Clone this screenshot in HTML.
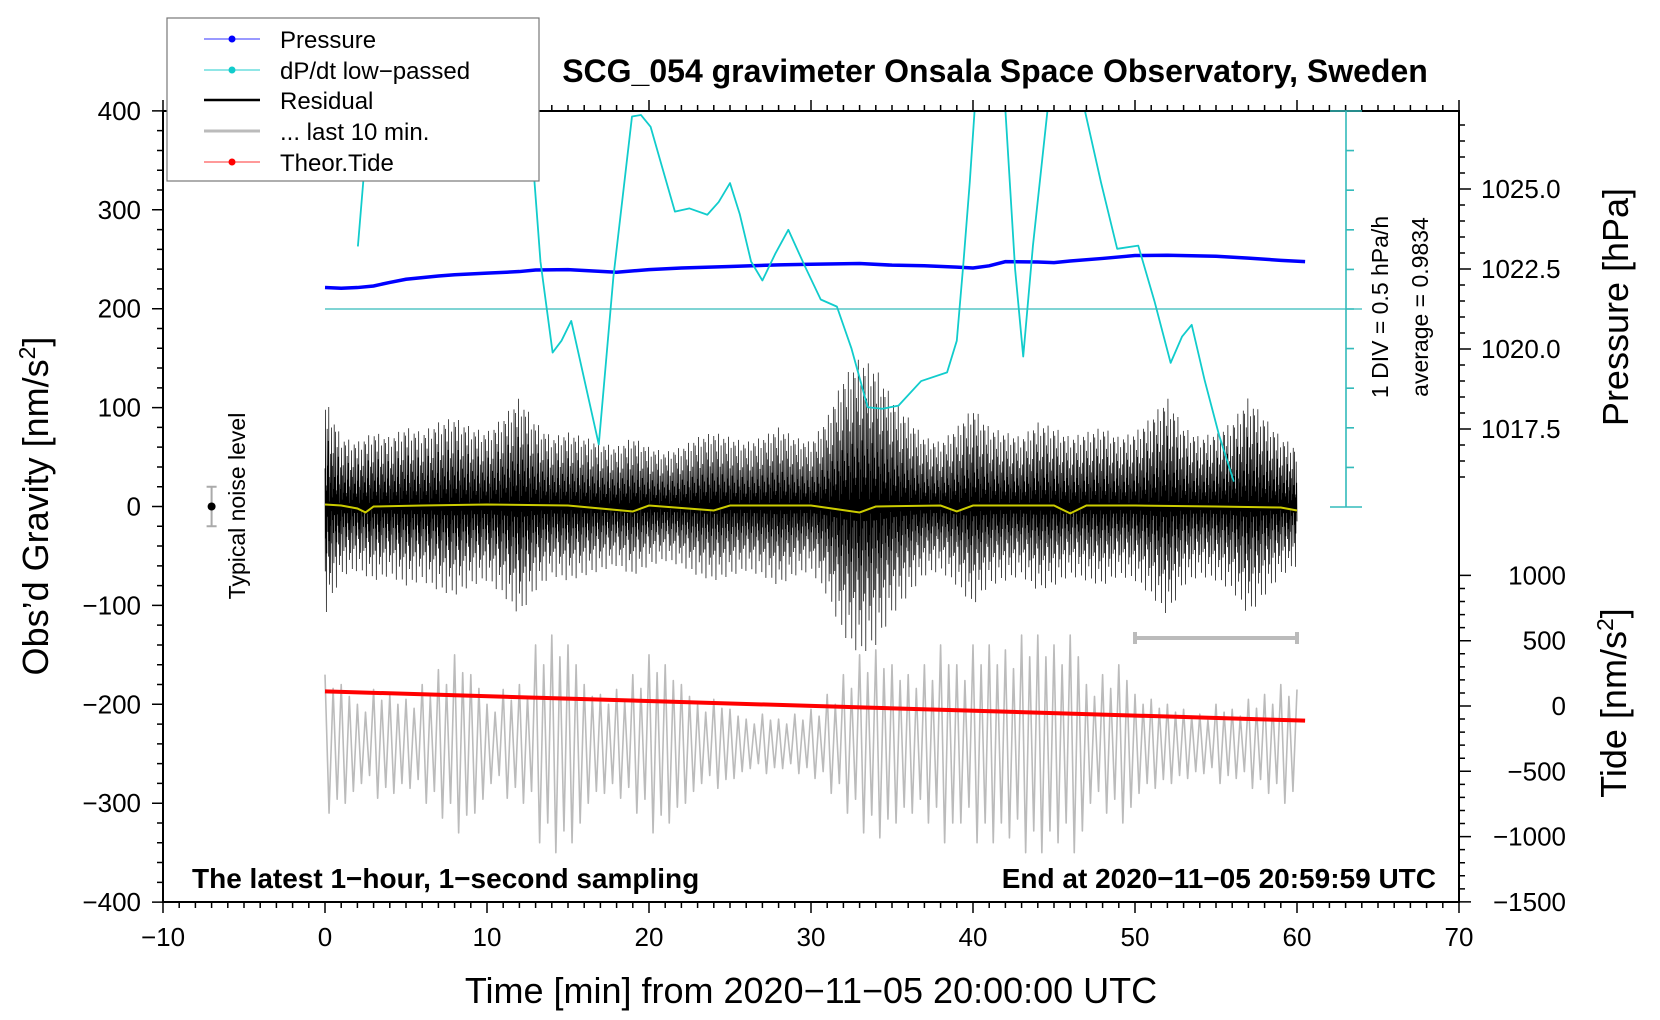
<!DOCTYPE html>
<html><head><meta charset="utf-8"><style>
body{margin:0;background:#fff}
svg{display:block;font-family:"Liberation Sans",sans-serif}
</style></head><body>
<svg id="chart" width="1660" height="1020" viewBox="0 0 1660 1020">
<defs><clipPath id="plotclip"><rect x="163" y="111" width="1296" height="791"/></clipPath></defs>
<g id="marks" clip-path="url(#plotclip)"></g>
<g id="axes"></g>
<g>
<rect x="167" y="18" width="372" height="163" fill="#fff" stroke="#777" stroke-width="1.2"/>
<g><line x1="204" y1="39" x2="260" y2="39" stroke="#33f" stroke-width="1"/><circle cx="232" cy="39" r="3.5" fill="#00f"/><text x="280" y="48" font-size="24">Pressure</text></g>
<g><line x1="204" y1="70" x2="260" y2="70" stroke="#2cc" stroke-width="1"/><circle cx="232" cy="70" r="3.5" fill="#1cc"/><text x="280" y="79" font-size="24">dP/dt low−passed</text></g>
<g><line x1="204" y1="100" x2="260" y2="100" stroke="#000" stroke-width="2.5"/><text x="280" y="109" font-size="24">Residual</text></g>
<g><line x1="204" y1="131" x2="260" y2="131" stroke="#bbb" stroke-width="3"/><text x="280" y="140" font-size="24">... last 10 min.</text></g>
<g><line x1="204" y1="162" x2="260" y2="162" stroke="#f33" stroke-width="1"/><circle cx="232" cy="162" r="3.5" fill="#f00"/><text x="280" y="171" font-size="24">Theor.Tide</text></g>
</g>
<text x="995" y="82" font-size="32" font-weight="bold" text-anchor="middle">SCG_054 gravimeter Onsala Space Observatory, Sweden</text>
<text x="192" y="888" font-size="28" font-weight="bold">The latest 1−hour, 1−second sampling</text>
<text x="1436" y="888" font-size="28" font-weight="bold" text-anchor="end">End at 2020−11−05 20:59:59 UTC</text>
<text transform="translate(48,506) rotate(-90)" font-size="36" text-anchor="middle">Obs’d Gravity [nm/s<tspan dy="-13" font-size="23">2</tspan><tspan dy="13">]</tspan></text>
<text x="811" y="1003" font-size="36" text-anchor="middle">Time [min] from 2020−11−05 20:00:00 UTC</text>
<text transform="translate(1628,307) rotate(-90)" font-size="36" text-anchor="middle">Pressure [hPa]</text>
<text transform="translate(1626,703) rotate(-90)" font-size="36" text-anchor="middle">Tide [nm/s<tspan dy="-13" font-size="23">2</tspan><tspan dy="13">]</tspan></text>
<text transform="translate(1388,307) rotate(-90)" font-size="23" text-anchor="middle">1 DIV = 0.5 hPa/h</text>
<text transform="translate(1428,307) rotate(-90)" font-size="23" text-anchor="middle">average = 0.9834</text>
<text transform="translate(245,506) rotate(-90)" font-size="23" text-anchor="middle">Typical noise level</text>
</svg>
<script>
// ---- data ----
const residualEnvelope=[110,70,65,75,70,80,75,85,90,80,75,90,110,85,70,75,70,65,60,70,60,55,60,70,75,70,65,70,80,70,65,90,130,150,140,110,90,70,65,80,100,80,75,70,85,80,70,75,80,70,75,90,110,80,70,75,85,110,90,70,60];
const residualShape=[0.35,-0.6,0.9,-0.3,0.15,-1,0.2,-0.45,0.75,-0.1,0.4,-0.25,0.65,-0.5,1,-0.35,0.3,-0.8,0.05,-0.2,0.55,-0.7,0.25,-0.05,0.85,-0.4,0.1,-0.95,0.45,-0.15,0.6,-0.3,0.2,-0.65,0.95,-0.1,0.3];
const last10Amp=[70,60,40,55,50,45,60,75,90,70,40,55,60,100,110,100,60,50,55,70,90,80,60,40,45,35,25,30,25,30,35,50,70,90,95,80,70,80,100,80,100,100,95,110,110,100,110,60,70,80,50,45,40,35,30,40,35,45,50,60,55];
const last10Center=-240;
const yellowMinutes=[0,1,2,2.5,3,6,10,15,19,20,24,25,30,33,34,38,39,40,45,46,47,50,55,59,60];
const yellowValues=[2,1,-2,-6,0,1,2,1,-5,1,-4,1,1,-6,0,1,-5,1,1,-7,1,1,0,-1,-4];
const pressureMinutes=[0,1,2,3,4,5,6,7,8,10,12,13,15,18,20,22,25,28,30,33,35,37,39,40,41,42,44,45,46,48,50,52,55,57,59,60.5];
const pressureValues=[1021.92,1021.9,1021.92,1021.97,1022.08,1022.18,1022.23,1022.28,1022.32,1022.37,1022.42,1022.47,1022.48,1022.4,1022.48,1022.53,1022.58,1022.63,1022.65,1022.67,1022.62,1022.6,1022.56,1022.53,1022.6,1022.73,1022.72,1022.7,1022.75,1022.83,1022.92,1022.93,1022.9,1022.84,1022.77,1022.73];
const dpdtMinutes=[2.03,2.48,5,8,11,12.6,13.3,14.05,14.6,15.2,15.8,16.9,17.8,18.95,19.5,20.1,20.8,21.6,22.5,23.6,24.3,25.0,25.6,26.3,27.0,27.8,28.6,29.6,30.6,31.6,32.5,33.5,34.4,35.4,36.8,38.4,39.0,39.4,39.8,40.1,41,42.0,42.6,43.1,43.7,44.6,45.5,46.9,47.9,48.9,50.2,51.2,52.2,52.9,53.5,54.3,55.2,56.1];
const dpdtValues=[0.79,1.9,3.5,3.8,3.5,2.51,0.6,-0.55,-0.4,-0.15,-0.7,-1.71,0.4,2.43,2.45,2.3,1.8,1.23,1.27,1.19,1.35,1.59,1.2,0.6,0.36,0.7,1.0,0.55,0.12,0.03,-0.5,-1.24,-1.26,-1.22,-0.91,-0.8,-0.4,0.56,1.6,2.51,3.5,2.51,0.5,-0.6,0.8,2.51,3.5,2.51,1.6,0.76,0.8,0.1,-0.68,-0.35,-0.2,-0.9,-1.6,-2.18];
const tideMinutes=[0,60.5];
const tideValues=[112,-112];
const yTicks=[-400,-300,-200,-100,0,100,200,300,400];
const xTicks=[-10,0,10,20,30,40,50,60,70];
const pTicks=["1017.5","1020.0","1022.5","1025.0"];
const tideTicks=[-1500,-1000,-500,0,500,1000];

// ---- scales ----
const X=t=>325+t*16.2;
const Y=g=>506.5-g*0.989;
const YP=p=>269-(p-1022.5)*32;
const YT=v=>706-v*0.1306;
const YC=v=>309-v*79.2;
const NS='http://www.w3.org/2000/svg';
const marks=document.getElementById('marks'), axes=document.getElementById('axes');
function mk(tag,attrs,parent){const e=document.createElementNS(NS,tag);for(const k in attrs)e.setAttribute(k,attrs[k]);parent.appendChild(e);return e;}

let zl=mk('line',{x1:X(0),y1:YC(0),x2:1362,y2:YC(0),stroke:'#3bb',"stroke-width":1.3},axes);



// residual
let pts=[];
for(let i=0;i<=3600;i++){const t=i/60;const m=Math.floor(t),f=t-m;const e0=residualEnvelope[Math.min(m,60)],e1=residualEnvelope[Math.min(m+1,60)];const env=e0+(e1-e0)*f;pts.push(X(t).toFixed(2)+','+Y(env*residualShape[i%residualShape.length]).toFixed(2));}
let res=mk('polyline',{points:pts.join(' '),fill:'none',stroke:'#000',"stroke-width":0.7},marks);



let yl=mk('polyline',{points:yellowMinutes.map((t,i)=>X(t)+','+Y(yellowValues[i])).join(' '),fill:'none',stroke:'#cc0',"stroke-width":2},marks);



// last 10 min grey
pts=[];
for(let k=0;k<=240;k++){const t=k*0.25;const a=last10Amp[Math.min(Math.floor(t),60)];const s=(k%2===0)?1:-1;pts.push(X(t).toFixed(2)+','+Y(last10Center+s*a*((k%4<2)?1:0.8)).toFixed(2));}
let gl=mk('polyline',{points:pts.join(' '),fill:'none',stroke:'#bbb',"stroke-width":1.6,"stroke-linejoin":"round"},marks);



let pl=mk('polyline',{points:pressureMinutes.map((t,i)=>X(t)+','+YP(pressureValues[i])).join(' '),fill:'none',stroke:'#00f',"stroke-width":3.5},marks);



let cl=mk('polyline',{points:dpdtMinutes.map((t,i)=>X(t)+','+YC(dpdtValues[i])).join(' '),fill:'none',stroke:'#1cc',"stroke-width":1.8,"stroke-linejoin":"round"},marks);



let tl=mk('polyline',{points:tideMinutes.map((t,i)=>X(t)+','+YT(tideValues[i])).join(' '),fill:'none',stroke:'#f00',"stroke-width":4},marks);



let bar=mk('path',{d:`M${X(50)},${Y(-133)}H${X(60)}M${X(50)},${Y(-133)-6}v12M${X(60)},${Y(-133)-6}v12`,stroke:'#bbb',"stroke-width":4,fill:'none'},marks);



let nb=mk('path',{d:`M${X(-7)},${Y(20)}V${Y(-20)}M${X(-7)-5},${Y(20)}h10M${X(-7)-5},${Y(-20)}h10`,stroke:'#aaa',"stroke-width":2,fill:'none'},axes);


let nd=mk('circle',{cx:X(-7),cy:Y(0),r:4,fill:'#000'},axes);



let fr=mk('rect',{x:163,y:111,width:1296,height:791,fill:'none',stroke:'#000',"stroke-width":2},axes);



let d='';
for(let t=-10;t<=70;t++){const L=(t%10===0)?11:6;d+=`M${X(t)},902v${L}M${X(t)},111v${-L}`;}
for(let g=-400;g<=400;g+=20){const L=(g%100===0)?11:6;d+=`M163,${Y(g)}h${-L}`;}
for(let p=1016;p<=1027;p+=0.5){const y=YP(p);if(y<111||y>520)continue;const L=(Math.abs(p*2%5)<1e-6)?12:6;d+=`M1459,${y}h${L}`;}
for(let v=-1500;v<=1000;v+=100){const L=(v%500===0)?12:6;d+=`M1459,${YT(v)}h${L}`;}
let tk=mk('path',{d:d,stroke:'#000',"stroke-width":1.5,fill:'none'},axes);



let cd=`M1346,${YC(2.5)}V${YC(-2.5)}M1330,${YC(2.5)}h32M1330,${YC(-2.5)}h32`;
for(let v=-2;v<=2;v+=0.5)cd+=`M1346,${YC(v)}h8`;
let ca=mk('path',{d:cd,stroke:'#3bb',"stroke-width":1.6,fill:'none'},axes);



yTicks.forEach(g=>{const e=mk('text',{x:141,y:Y(g)+9,"font-size":26,"text-anchor":"end"},axes);e.textContent=String(g).replace('-','−');

});
xTicks.forEach(t=>{const e=mk('text',{x:X(t),y:946,"font-size":26,"text-anchor":"middle"},axes);e.textContent=String(t).replace('-','−');

});
pTicks.forEach(p=>{const e=mk('text',{x:1481,y:YP(parseFloat(p))+9,"font-size":26},axes);e.textContent=p;

});
tideTicks.forEach(v=>{const e=mk('text',{x:1566,y:YT(v)+9,"font-size":26,"text-anchor":"end"},axes);e.textContent=String(v).replace('-','−');

});
</script>
</body></html>
